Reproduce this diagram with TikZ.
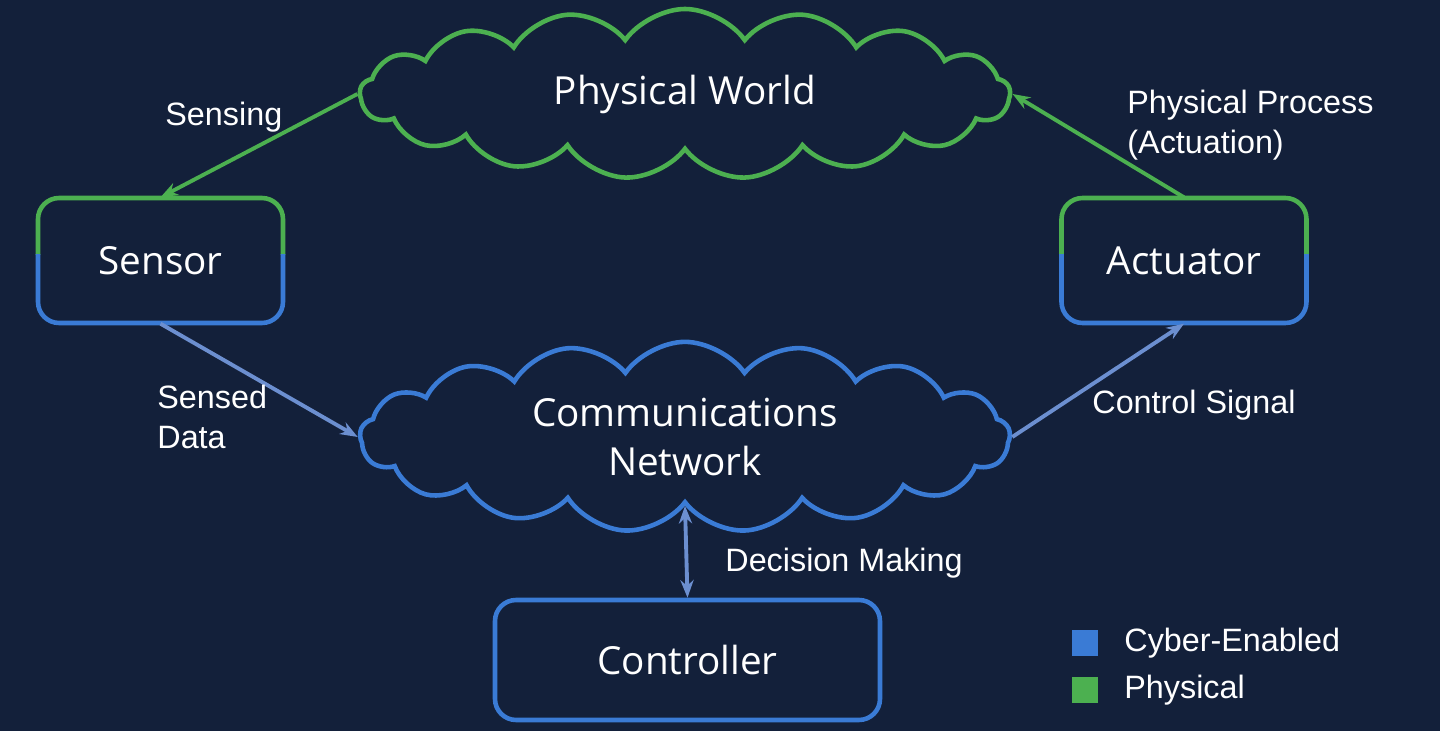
\documentclass[tikz,border=0pt]{standalone}
\usepackage{fontspec}
\setmainfont{Open Sans}
\newfontfamily\lblfont{Liberation Sans}
\usetikzlibrary{shapes.symbols,arrows.meta}
\definecolor{bgnavy}{HTML}{13203A}
\definecolor{cyber}{HTML}{3A7BD5}
\definecolor{phys}{HTML}{4CB050}
\definecolor{linkblue}{HTML}{6C8FD0}
\tikzset{
  cloudnode/.style={cloud, cloud puffs=17, cloud puff arc=110, aspect=3.6, draw, line width=1.3pt,
    minimum width=6.5cm, minimum height=1.7cm, text=white, font=\fontsize{11}{14}\selectfont, align=center},
  box/.style={rounded corners=6pt, line width=1.3pt, draw, text=white, font=\fontsize{11}{14}\selectfont},
  lbl/.style={text=white, font=\lblfont\fontsize{9.2}{11.5}\selectfont, align=left},
  link/.style={line width=1.1pt, -{Stealth[length=5pt]}},
}
\begin{document}
\begin{tikzpicture}[x=1cm,y=-1cm]
    \fill[bgnavy] (0,0) rectangle (14.4,7.31);
    \useasboundingbox (0,0) rectangle (14.4,7.31);
    % clouds
    \node[cloudnode, draw=phys] (world) at (6.85,0.94) {Physical World};
    \node[cloudnode, draw=cyber] (net) at (6.85,4.37) {Communications\\Network};
    % boxes with two-tone border
    \foreach \nm/\cx/\txt in {sensor/1.605/Sensor, actuator/11.84/Actuator}{
        \begin{scope}
            \clip (\cx-1.4,1.8) rectangle (\cx+1.4,2.55);
            \draw[box, draw=phys] (\cx-1.225,1.98) rectangle (\cx+1.225,3.23);
        \end{scope}
        \begin{scope}
            \clip (\cx-1.4,2.55) rectangle (\cx+1.4,3.4);
            \draw[box, draw=cyber] (\cx-1.225,1.98) rectangle (\cx+1.225,3.23);
        \end{scope}
        \node[text=white, font=\fontsize{11}{14}\selectfont, minimum width=2.45cm, minimum height=1.25cm] (\nm) at (\cx,2.605) {\txt};
    }
    \node[box, draw=cyber, minimum width=3.85cm, minimum height=1.2cm] (ctrl) at (6.875,6.6) {Controller};
    % connectors
    \draw[link, draw=phys] (world.west) -- (sensor.north);
    \draw[link, draw=linkblue] (sensor.south) -- (net.west);
    \draw[link, draw=linkblue] (net.east) -- (actuator.south);
    \draw[link, draw=phys] (actuator.north) -- (world.east);
    \draw[line width=1.1pt, draw=linkblue, {Stealth[length=5pt]}-{Stealth[length=5pt]}] (net.south) -- (ctrl.north);
    % labels
    \node[lbl, anchor=west] at (1.53,1.17) {Sensing};
    \node[lbl, anchor=west] at (11.15,1.25) {Physical Process\\(Actuation)};
    \node[lbl, anchor=west] at (1.45,4.17) {Sensed\\Data};
    \node[lbl, anchor=west] at (10.8,4.05) {Control Signal};
    \node[lbl, anchor=west] at (7.13,5.63) {Decision Making};
    % legend
    \fill[cyber] (10.72,6.3) rectangle (10.98,6.56);
    \fill[phys] (10.72,6.77) rectangle (10.98,7.03);
    \node[lbl, anchor=west] at (11.12,6.43) {Cyber-Enabled};
    \node[lbl, anchor=west] at (11.12,6.90) {Physical};
\end{tikzpicture}
\end{document}
